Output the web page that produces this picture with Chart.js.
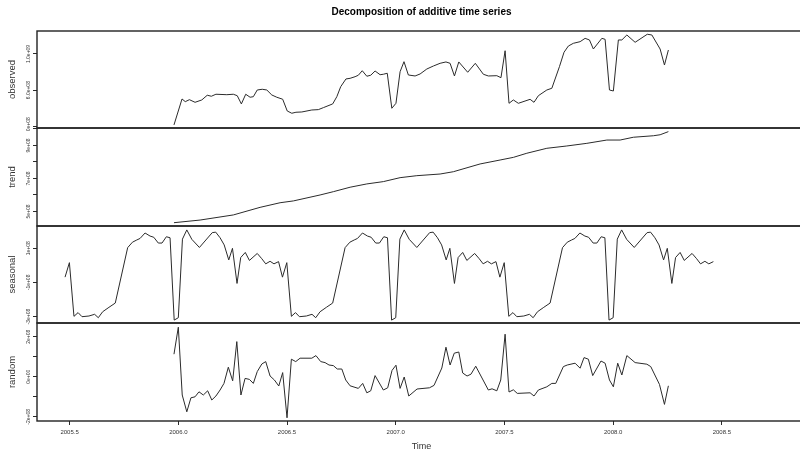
<!DOCTYPE html>
<html>
<head>
<meta charset="utf-8">
<script src="https://cdn.jsdelivr.net/npm/chart.js@4"></script>
<style>
  html, body { margin: 0; padding: 0; background: #fff; overflow: hidden; width: 800px; height: 451px; }
  canvas { position: absolute; left: 0; }
</style>
</head>
<body>
<canvas id="cObs" width="806" height="131" style="top:0px"></canvas>
<canvas id="cTrend" width="806" height="104" style="top:125px"></canvas>
<canvas id="cSeas" width="806" height="103" style="top:223px"></canvas>
<canvas id="cRand" width="806" height="131" style="top:320px"></canvas>
<script>
// decompose() output, weekly series (time in decimal years)

const obsTime = [2005.980, 2006.017, 2006.032, 2006.051, 2006.077, 2006.108, 2006.133, 2006.152, 2006.173, 2006.223,
  2006.253, 2006.271, 2006.290, 2006.310, 2006.330, 2006.345, 2006.363, 2006.386, 2006.407, 2006.430,
  2006.453, 2006.480, 2006.501, 2006.522, 2006.541, 2006.568, 2006.614, 2006.644, 2006.667, 2006.710,
  2006.729, 2006.747, 2006.771, 2006.790, 2006.813, 2006.828, 2006.846, 2006.867, 2006.885, 2006.905,
  2006.928, 2006.943, 2006.961, 2006.982, 2007.001, 2007.020, 2007.038, 2007.058, 2007.089, 2007.112,
  2007.143, 2007.173, 2007.204, 2007.231, 2007.250, 2007.270, 2007.290, 2007.331, 2007.366, 2007.403,
  2007.426, 2007.465, 2007.484, 2007.503, 2007.521, 2007.541, 2007.564, 2007.618, 2007.636, 2007.656,
  2007.695, 2007.718, 2007.753, 2007.774, 2007.794, 2007.817, 2007.848, 2007.871, 2007.891, 2007.909,
  2007.948, 2007.963, 2007.983, 2008.001, 2008.024, 2008.040, 2008.063, 2008.101, 2008.157, 2008.178,
  2008.216, 2008.236, 2008.254];
const obsValue = [2.16e8, 5.03e8, 4.73e8, 4.95e8, 4.66e8, 4.92e8, 5.44e8, 5.33e8, 5.55e8, 5.50e8,
  5.55e8, 5.39e8, 4.48e8, 5.55e8, 5.22e8, 5.28e8, 6.02e8, 6.10e8, 6.02e8, 5.47e8,
  5.22e8, 5.00e8, 3.70e8, 3.45e8, 3.56e8, 3.59e8, 3.81e8, 3.85e8, 4.07e8, 4.48e8,
  5.28e8, 6.39e8, 7.24e8, 7.31e8, 7.49e8, 7.65e8, 8.15e8, 7.54e8, 7.65e8, 8.12e8,
  7.71e8, 7.76e8, 7.87e8, 4.00e8, 4.55e8, 8.04e8, 9.15e8, 7.68e8, 7.57e8, 7.79e8,
  8.34e8, 8.67e8, 8.97e8, 9.12e8, 8.97e8, 7.57e8, 9.12e8, 7.98e8, 8.97e8, 7.76e8,
  7.57e8, 7.60e8, 7.38e8, 10.36e8, 4.55e8, 4.92e8, 4.55e8, 4.99e8, 4.66e8, 5.39e8,
  6.02e8, 6.21e8, 8.60e8, 10.19e8, 10.88e8, 11.18e8, 11.36e8, 11.73e8, 11.55e8, 10.55e8,
  11.73e8, 11.62e8, 6.02e8, 5.91e8, 11.55e8, 11.55e8, 12.10e8, 11.29e8, 12.18e8, 12.10e8,
  10.55e8, 8.78e8, 10.44e8];

const trendTime = [2005.980, 2006.100, 2006.253, 2006.376, 2006.468, 2006.529, 2006.652, 2006.713, 2006.790, 2006.867,
  2006.943, 2007.020, 2007.097, 2007.204, 2007.265, 2007.388, 2007.480, 2007.541, 2007.603, 2007.695,
  2007.787, 2007.879, 2007.971, 2008.032, 2008.093, 2008.185, 2008.216, 2008.254];
const trendValue = [4.32e8, 4.48e8, 4.79e8, 5.25e8, 5.53e8, 5.64e8, 6.00e8, 6.20e8, 6.47e8, 6.67e8,
  6.81e8, 7.05e8, 7.17e8, 7.27e8, 7.41e8, 7.88e8, 8.12e8, 8.28e8, 8.53e8, 8.83e8,
  8.97e8, 9.13e8, 9.33e8, 9.33e8, 9.50e8, 9.59e8, 9.65e8, 9.84e8];

const seasonalTime = [
  2005.479, 2005.499, 2005.520, 2005.539, 2005.557, 2005.589, 2005.615, 2005.632, 2005.652, 2005.681, 2005.710,
  2005.767, 2005.789, 2005.809, 2005.824, 2005.847, 2005.870, 2005.887, 2005.908, 2005.925, 2005.945, 2005.962,
  2005.981, 2006.000, 2006.019, 2006.039, 2006.062, 2006.097, 2006.156, 2006.172, 2006.192, 2006.211, 2006.232,
  2006.249, 2006.270, 2006.287, 2006.308, 2006.327, 2006.363, 2006.384, 2006.402, 2006.422, 2006.440, 2006.461,
  2006.479, 2006.499, 2006.520, 2006.539, 2006.557, 2006.589, 2006.615, 2006.632, 2006.652, 2006.681, 2006.710,
  2006.767, 2006.789, 2006.809, 2006.824, 2006.847, 2006.870, 2006.887, 2006.908, 2006.925, 2006.945, 2006.962,
  2006.981, 2007.000, 2007.019, 2007.039, 2007.062, 2007.097, 2007.156, 2007.172, 2007.192, 2007.211, 2007.232,
  2007.249, 2007.270, 2007.287, 2007.308, 2007.327, 2007.363, 2007.384, 2007.402, 2007.422, 2007.440, 2007.461,
  2007.479, 2007.499, 2007.520, 2007.539, 2007.557, 2007.589, 2007.615, 2007.632, 2007.652, 2007.681, 2007.710,
  2007.767, 2007.789, 2007.809, 2007.824, 2007.847, 2007.870, 2007.887, 2007.908, 2007.925, 2007.945, 2007.962,
  2007.981, 2008.000, 2008.019, 2008.039, 2008.062, 2008.097, 2008.156, 2008.172, 2008.192, 2008.211, 2008.232,
  2008.249, 2008.270, 2008.287, 2008.308, 2008.327, 2008.363, 2008.384, 2008.402, 2008.422, 2008.440, 2008.461];
const seasonalValue = [
  -0.69e8, 0.16e8, -2.99e8, -2.77e8, -3.01e8, -2.97e8, -2.87e8, -3.07e8, -2.72e8, -2.46e8, -2.21e8,
  1.04e8, 1.36e8, 1.49e8, 1.58e8, 1.90e8, 1.72e8, 1.65e8, 1.31e8, 1.31e8, 1.68e8, 1.62e8,
  -3.21e8, -3.07e8, 1.54e8, 2.08e8, 1.53e8, 1.05e8, 1.92e8, 1.95e8, 1.62e8, 1.20e8, 0.32e8,
  1.00e8, -1.06e8, 0.46e8, 0.76e8, 0.29e8, 0.70e8, 0.39e8, 0.09e8, 0.24e8, 0.09e8, 0.22e8,
  -0.69e8, 0.16e8, -2.99e8, -2.77e8, -3.01e8, -2.97e8, -2.87e8, -3.07e8, -2.72e8, -2.46e8, -2.21e8,
  1.04e8, 1.36e8, 1.49e8, 1.58e8, 1.90e8, 1.72e8, 1.65e8, 1.31e8, 1.31e8, 1.68e8, 1.62e8,
  -3.21e8, -3.07e8, 1.54e8, 2.08e8, 1.53e8, 1.05e8, 1.92e8, 1.95e8, 1.62e8, 1.20e8, 0.32e8,
  1.00e8, -1.06e8, 0.46e8, 0.76e8, 0.29e8, 0.70e8, 0.39e8, 0.09e8, 0.24e8, 0.09e8, 0.22e8,
  -0.69e8, 0.16e8, -2.99e8, -2.77e8, -3.01e8, -2.97e8, -2.87e8, -3.07e8, -2.72e8, -2.46e8, -2.21e8,
  1.04e8, 1.36e8, 1.49e8, 1.58e8, 1.90e8, 1.72e8, 1.65e8, 1.31e8, 1.31e8, 1.68e8, 1.62e8,
  -3.21e8, -3.07e8, 1.54e8, 2.08e8, 1.53e8, 1.05e8, 1.92e8, 1.95e8, 1.62e8, 1.20e8, 0.32e8,
  1.00e8, -1.06e8, 0.46e8, 0.76e8, 0.29e8, 0.70e8, 0.39e8, 0.09e8, 0.24e8, 0.09e8, 0.22e8];

const randomTime = [2005.980, 2006.000, 2006.018, 2006.039, 2006.058, 2006.077, 2006.095, 2006.115, 2006.135, 2006.154,
  2006.173, 2006.192, 2006.210, 2006.230, 2006.250, 2006.269, 2006.288, 2006.307, 2006.327, 2006.345,
  2006.363, 2006.384, 2006.402, 2006.422, 2006.442, 2006.462, 2006.480, 2006.500, 2006.520, 2006.540,
  2006.560, 2006.614, 2006.633, 2006.655, 2006.675, 2006.693, 2006.713, 2006.731, 2006.752, 2006.770,
  2006.790, 2006.828, 2006.848, 2006.867, 2006.885, 2006.905, 2006.943, 2006.963, 2006.983, 2007.001,
  2007.020, 2007.039, 2007.060, 2007.098, 2007.155, 2007.176, 2007.212, 2007.231, 2007.250, 2007.269,
  2007.290, 2007.308, 2007.328, 2007.346, 2007.368, 2007.426, 2007.443, 2007.465, 2007.483, 2007.503,
  2007.521, 2007.541, 2007.559, 2007.618, 2007.636, 2007.656, 2007.695, 2007.718, 2007.736, 2007.771,
  2007.789, 2007.825, 2007.848, 2007.866, 2007.886, 2007.906, 2007.944, 2007.963, 2007.983, 2008.001,
  2008.021, 2008.040, 2008.063, 2008.101, 2008.155, 2008.173, 2008.213, 2008.236, 2008.254];
const randomValue = [1.13e8, 2.48e8, -0.91e8, -1.75e8, -1.05e8, -1.00e8, -0.75e8, -0.91e8, -0.70e8, -1.16e8,
  -0.96e8, -0.66e8, -0.33e8, 0.48e8, -0.20e8, 1.76e8, -0.91e8, -0.08e8, -0.13e8, -0.33e8,
  0.26e8, 0.64e8, 0.76e8, 0.04e8, -0.16e8, -0.46e8, 0.21e8, -2.05e8, 0.88e8, 0.76e8,
  0.93e8, 0.93e8, 1.06e8, 0.76e8, 0.71e8, 0.59e8, 0.56e8, 0.39e8, 0.39e8, -0.16e8,
  -0.45e8, -0.58e8, -0.33e8, -0.80e8, -0.70e8, 0.06e8, -0.66e8, -0.55e8, 0.32e8, 0.58e8,
  -0.58e8, -0.01e8, -0.96e8, -0.61e8, -0.55e8, -0.43e8, 0.44e8, 1.48e8, 0.59e8, 1.18e8,
  1.24e8, 0.19e8, 0.04e8, 0.13e8, 0.53e8, -0.66e8, -0.60e8, -0.70e8, -0.16e8, 2.13e8,
  -0.76e8, -0.65e8, -0.83e8, -0.80e8, -0.96e8, -0.66e8, -0.50e8, -0.33e8, -0.33e8, 0.51e8,
  0.59e8, 0.68e8, 0.43e8, 0.96e8, 0.88e8, 0.06e8, 0.79e8, 0.68e8, -0.16e8, -0.50e8,
  0.68e8, 0.09e8, 1.06e8, 0.71e8, 0.63e8, 0.51e8, -0.38e8, -1.38e8, -0.45e8];

// axis ticks (R only prints every other label)
const timeTicks = [2005.5, 2006.0, 2006.5, 2007.0, 2007.5, 2008.0, 2008.5];
const obsTicks = [2e8, 4e8, 6e8, 8e8, 1e9, 1.2e9];
const obsTickLabels = ['2.0e+08', '', '6.0e+08', '', '1.0e+09', ''];
const trendTicks = [5e8, 6e8, 7e8, 8e8, 9e8, 1e9];
const trendTickLabels = ['5e+08', '', '7e+08', '', '9e+08', ''];
const seasonalTicks = [-3e8, -2e8, -1e8, 0, 1e8, 2e8];
const seasonalTickLabels = ['-3e+08', '', '-1e+08', '', '1e+08', ''];
const randomTicks = [-2e8, -1e8, 0, 1e8, 2e8];
const randomTickLabels = ['-2e+08', '', '0e+00', '', '2e+08'];

const FONT = "'Liberation Sans', Arial, sans-serif";
const INK = '#2b2b2b';

// box around each panel, like R's box()
const framePlugin = {
	id: 'frame',
	afterDraw(chart){
		const a = chart.chartArea, ctx = chart.ctx;
		ctx.save();
		ctx.strokeStyle = '#222';
		ctx.lineWidth = 1.4;
		ctx.strokeRect(a.left, a.top, a.right - a.left, a.bottom - a.top);
		ctx.restore();
	}
};

function makePanel(canvasId, name, times, values, yRange, ticks, tickLabels, extra){
	const showX = !!extra.showX;
	return new Chart(document.getElementById(canvasId), {
		type: 'scatter',
		data: {
			datasets: [{
				data: times.map((t, i) => ({ x: t, y: values[i] })),
				showLine: true,
				borderColor: INK,
				borderWidth: 1,
				pointRadius: 0,
				tension: 0
			}]
		},
		options: {
			responsive: false,
			animation: false,
			devicePixelRatio: 1,
			layout: { padding: extra.padding },
			plugins: {
				legend: { display: false },
				tooltip: { enabled: false },
				title: extra.title || { display: false }
			},
			scales: {
				x: {
					type: 'linear',
					min: 2005.35,
					max: 2008.887,
					display: showX,
					afterBuildTicks: s => { s.ticks = timeTicks.map(v => ({ value: v })); },
					afterFit: s => { if(showX) s.height = 30; },
					grid: { drawOnChartArea: false, tickLength: 4, color: INK, tickWidth: 1 },
					border: { display: false },
					ticks: {
						color: '#333',
						padding: 4,
						maxRotation: 0,
						font: { family: FONT, size: 6 },
						callback: v => v.toFixed(1)
					},
					title: {
						display: showX,
						text: 'Time',
						color: '#333',
						font: { family: FONT, size: 9, lineHeight: 1 },
						padding: { top: 0, bottom: 0 }
					}
				},
				y: {
					min: yRange[0],
					max: yRange[1],
					afterBuildTicks: s => { s.ticks = ticks.map(v => ({ value: v })); },
					afterFit: s => { s.width = 37; },
					grid: { drawOnChartArea: false, tickLength: 4, color: INK, tickWidth: 1 },
					border: { display: false },
					ticks: {
						color: '#333',
						minRotation: 90,
						maxRotation: 90,
						crossAlign: 'center',
						padding: extra.tickPad,
						font: { family: FONT, size: 5 },
						callback: (v) => tickLabels[ticks.indexOf(v)] || ''
					},
					title: {
						display: true,
						text: name,
						color: '#333',
						font: { family: FONT, size: 9.5, lineHeight: 1 },
						padding: { top: 7.5, bottom: 0 }
					}
				}
			}
		},
		plugins: [framePlugin]
	});
}

makePanel('cObs', 'observed', obsTime, obsValue, [1.82e8, 12.54e8], obsTicks, obsTickLabels, {
	padding: { top: 0, bottom: 3, left: 0, right: 0 },
	tickPad: -4.5,
	title: {
		display: true,
		text: 'Decomposition of additive time series',
		color: '#000',
		fullSize: false,
		font: { family: FONT, size: 10, weight: 'bold', lineHeight: 1.2 },
		padding: { top: 6.5, bottom: 12.5 }
	}
});
makePanel('cTrend', 'trend', trendTime, trendValue, [4.12e8, 10.06e8], trendTicks, trendTickLabels, {
	padding: { top: 3, bottom: 3, left: 0, right: 0 },
	tickPad: -2.5
});
makePanel('cSeas', 'seasonal', seasonalTime, seasonalValue, [-3.38e8, 2.31e8], seasonalTicks, seasonalTickLabels, {
	padding: { top: 3, bottom: 3, left: 0, right: 0 },
	tickPad: -3.3
});
makePanel('cRand', 'random', randomTime, randomValue, [-2.21e8, 2.69e8], randomTicks, randomTickLabels, {
	padding: { top: 3, bottom: 0, left: 0, right: 0 },
	tickPad: -3.3,
	showX: true
});
</script>
</body>
</html>
